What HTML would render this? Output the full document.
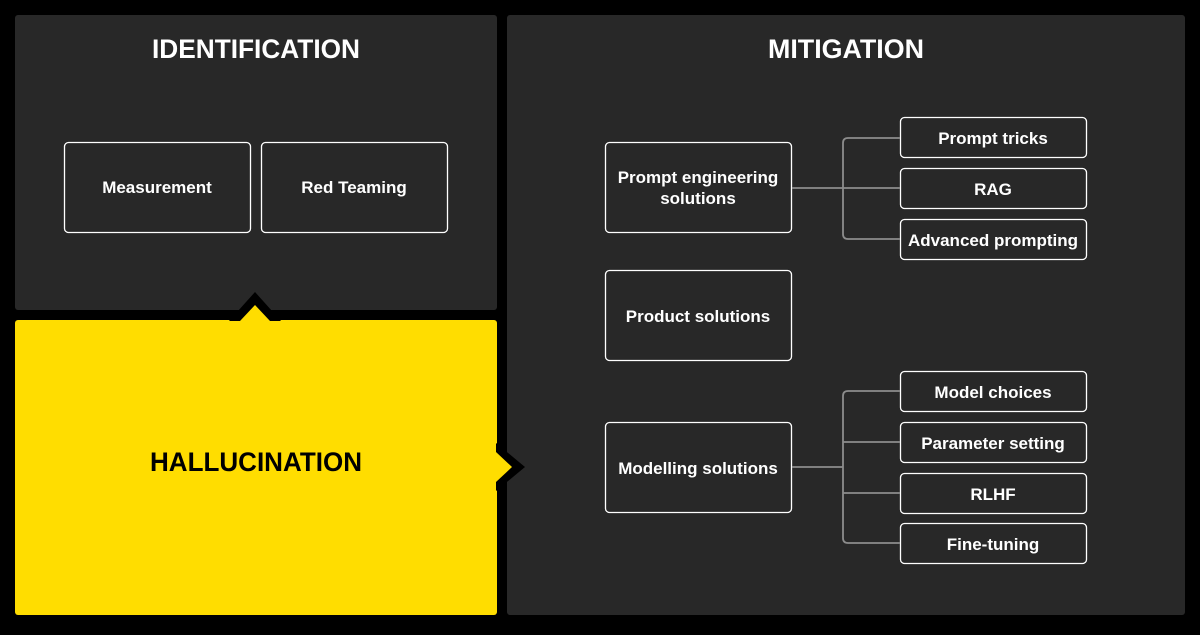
<!DOCTYPE html>
<html><head><meta charset="utf-8"><style>
body{margin:0;background:#000;}
svg text{font-family:"Liberation Sans",sans-serif;}
</style></head><body>
<svg width="1200" height="630" viewBox="0 0 1200 630" xmlns="http://www.w3.org/2000/svg">
<rect width="1200" height="630" fill="#000"/>
<rect x="15" y="15" width="482" height="295" fill="#282828" rx="3"/>
<rect x="507" y="15" width="678" height="600" fill="#282828" rx="3"/>
<rect x="15" y="320" width="482" height="295" fill="#FFDD00" rx="3"/>
<polygon points="229,321 255,292 281,321" fill="#000"/>
<polygon points="240,321 255,305 270,321" fill="#FFDD00"/>
<polygon points="496,443 525,467 496,491" fill="#000"/>
<polygon points="496,452 512,467 496,482" fill="#FFDD00"/>
<g font-weight="bold" font-size="26.5" text-anchor="middle">
<text x="256" y="58" fill="#fff" textLength="208" lengthAdjust="spacingAndGlyphs">IDENTIFICATION</text>
<text x="846" y="58" fill="#fff" textLength="156" lengthAdjust="spacingAndGlyphs">MITIGATION</text>
<text x="256" y="471" fill="#000" textLength="212" lengthAdjust="spacingAndGlyphs">HALLUCINATION</text>
</g>
<g fill="none" stroke="#fff" stroke-width="1.3">
<rect x="64.5" y="142.5" width="186" height="90" rx="4"/>
<rect x="261.5" y="142.5" width="186" height="90" rx="4"/>
<rect x="605.5" y="142.5" width="186" height="90" rx="4"/>
<rect x="605.5" y="270.5" width="186" height="90" rx="4"/>
<rect x="605.5" y="422.5" width="186" height="90" rx="4"/>
<rect x="900.5" y="117.5" width="186" height="40" rx="4"/>
<rect x="900.5" y="168.5" width="186" height="40" rx="4"/>
<rect x="900.5" y="219.5" width="186" height="40" rx="4"/>
<rect x="900.5" y="371.5" width="186" height="40" rx="4"/>
<rect x="900.5" y="422.5" width="186" height="40" rx="4"/>
<rect x="900.5" y="473.5" width="186" height="40" rx="4"/>
<rect x="900.5" y="523.5" width="186" height="40" rx="4"/>
</g>
<g fill="none" stroke="#8c8c8c" stroke-width="1.8">
<path d="M792 188H900M900 138H848Q843 138 843 143V234Q843 239 848 239H900"/>
<path d="M792 467H843M900 391H848Q843 391 843 396V538Q843 543 848 543H900M843 442H900M843 493H900"/>
</g>
<g fill="#fff" font-size="17" text-anchor="middle" font-weight="bold">
<text x="157" y="193">Measurement</text>
<text x="354" y="193">Red Teaming</text>
<text x="698" y="183">Prompt engineering</text>
<text x="698" y="204">solutions</text>
<text x="698" y="322">Product solutions</text>
<text x="698" y="474">Modelling solutions</text>
<text x="993" y="144">Prompt tricks</text>
<text x="993" y="195">RAG</text>
<text x="993" y="246">Advanced prompting</text>
<text x="993" y="398">Model choices</text>
<text x="993" y="449">Parameter setting</text>
<text x="993" y="500">RLHF</text>
<text x="993" y="550">Fine-tuning</text>
</g>
</svg>
</body></html>
